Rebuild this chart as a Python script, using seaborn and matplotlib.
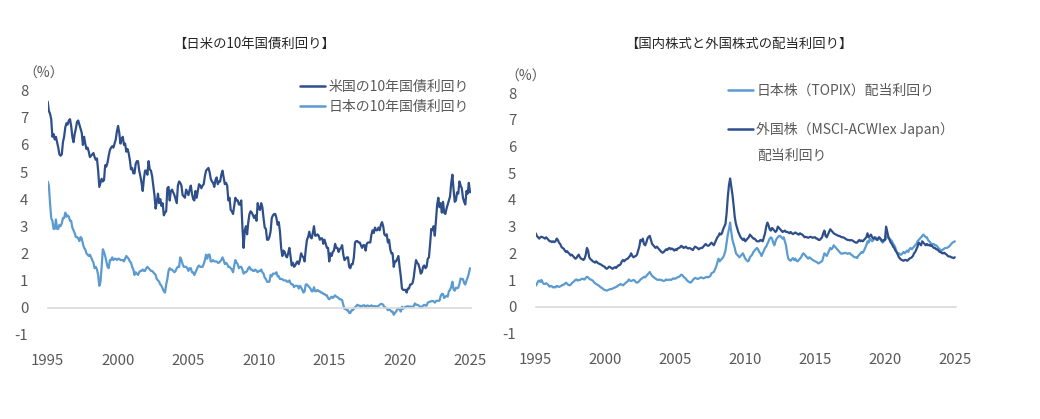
import numpy as np
import pandas as pd
import matplotlib
matplotlib.use("Agg")
import matplotlib.pyplot as plt
import seaborn as sns

sns.set_theme(style="white")
plt.rcParams['font.family'] = ['Noto Sans CJK JP', 'DejaVu Sans']

# ---------------- data (monthly, Jan 1995 - Jan 2025) ----------------
us_10y = [
    7.6, 7.25, 7.15, 6.95, 6.3, 6.4, 6.2, 6.3, 6.1, 5.9, 5.65, 5.6,
    5.65, 6.1, 6.3, 6.65, 6.8, 6.75, 6.9, 6.95, 6.7, 6.3, 6.1, 6.4,
    6.6, 6.85, 6.9, 6.75, 6.6, 6.45, 6.0, 6.3, 6.05, 5.85, 5.9, 5.75,
    5.55, 5.6, 5.65, 5.7, 5.55, 5.45, 5.5, 5.05, 4.45, 4.6, 4.75, 4.65,
    4.7, 5.25, 5.2, 5.35, 5.6, 5.8, 5.9, 5.95, 5.9, 6.05, 6.2, 6.5,
    6.7, 6.45, 6.05, 6.2, 6.3, 6.0, 6.05, 5.75, 5.85, 5.7, 5.45, 5.1,
    5.15, 4.95, 4.95, 5.3, 5.4, 5.4, 5.05, 4.85, 4.6, 4.3, 4.75, 5.05,
    5.05, 4.9, 5.4, 5.1, 5.05, 4.85, 4.5, 4.15, 3.65, 3.9, 4.2, 3.85,
    4.0, 3.75, 3.85, 3.4, 3.5, 3.55, 4.4, 4.45, 3.95, 4.3, 4.35, 4.25,
    4.15, 4.0, 3.85, 4.5, 4.65, 4.6, 4.5, 4.15, 4.1, 4.05, 4.35, 4.25,
    4.15, 4.35, 4.5, 4.2, 4.0, 3.95, 4.3, 4.05, 4.3, 4.55, 4.5, 4.4,
    4.5, 4.55, 4.85, 5.05, 5.1, 5.15, 5.0, 4.75, 4.65, 4.6, 4.45, 4.7,
    4.8, 4.55, 4.65, 4.65, 4.9, 5.05, 4.8, 4.55, 4.6, 4.5, 3.95, 4.05,
    3.6, 3.55, 3.45, 3.75, 4.05, 3.95, 3.95, 3.8, 3.8, 3.95, 2.95, 2.2,
    2.85, 3.0, 2.7, 3.15, 3.45, 3.55, 3.5, 3.4, 3.3, 3.4, 3.2, 3.85,
    3.65, 3.6, 3.85, 3.7, 3.3, 2.95, 2.9, 2.5, 2.5, 2.6, 2.8, 3.3,
    3.4, 3.45, 3.45, 3.3, 3.05, 3.15, 2.8, 2.2, 1.9, 2.1, 2.05, 1.9,
    1.85, 2.0, 2.2, 1.9, 1.55, 1.65, 1.5, 1.55, 1.65, 1.7, 1.6, 1.75,
    2.0, 1.9, 1.85, 1.7, 2.15, 2.5, 2.6, 2.8, 2.6, 2.55, 2.75, 3.0,
    2.65, 2.65, 2.7, 2.65, 2.5, 2.55, 2.55, 2.35, 2.5, 2.35, 2.2, 2.2,
    1.7, 2.0, 1.9, 2.05, 2.1, 2.35, 2.2, 2.2, 2.05, 2.15, 2.2, 2.3,
    1.95, 1.75, 1.8, 1.85, 1.85, 1.5, 1.45, 1.6, 1.6, 1.85, 2.4, 2.45,
    2.45, 2.4, 2.4, 2.3, 2.2, 2.3, 2.3, 2.1, 2.35, 2.4, 2.4, 2.4,
    2.7, 2.85, 2.75, 2.95, 2.85, 2.85, 2.95, 2.85, 3.05, 3.15, 3.0, 2.7,
    2.65, 2.7, 2.4, 2.5, 2.15, 2.0, 2.0, 1.5, 1.7, 1.7, 1.8, 1.9,
    1.5, 1.15, 0.7, 0.65, 0.65, 0.65, 0.55, 0.7, 0.7, 0.85, 0.85, 0.9,
    1.1, 1.45, 1.75, 1.65, 1.6, 1.45, 1.25, 1.3, 1.5, 1.55, 1.45, 1.5,
    1.8, 1.85, 2.35, 2.9, 2.85, 3.0, 2.65, 3.2, 3.8, 4.05, 3.7, 3.85,
    3.5, 3.9, 3.5, 3.45, 3.65, 3.8, 3.95, 4.1, 4.6, 4.9, 4.35, 3.9,
    3.95, 4.25, 4.2, 4.65, 4.5, 4.4, 4.05, 3.9, 3.8, 4.3, 4.2, 4.6,
    4.25,
]

jp_10y = [
    4.65, 4.5, 3.85, 3.3, 3.2, 2.9, 2.9, 3.25, 2.9, 2.9, 3.05, 3.0,
    3.1, 3.3, 3.3, 3.5, 3.35, 3.4, 3.35, 3.2, 3.2, 2.95, 2.85, 2.75,
    2.6, 2.6, 2.55, 2.45, 2.6, 2.55, 2.35, 2.2, 2.15, 2.0, 1.95, 1.9,
    1.95, 1.85, 1.75, 1.65, 1.45, 1.5, 1.4, 1.2, 0.8, 0.95, 1.5, 2.15,
    2.05, 1.9, 1.7, 1.5, 1.45, 1.75, 1.75, 1.85, 1.75, 1.8, 1.8, 1.75,
    1.8, 1.8, 1.75, 1.75, 1.75, 1.7, 1.8, 1.9, 1.85, 1.8, 1.7, 1.65,
    1.5, 1.4, 1.2, 1.3, 1.25, 1.2, 1.3, 1.35, 1.35, 1.4, 1.35, 1.35,
    1.45, 1.5, 1.45, 1.4, 1.35, 1.35, 1.3, 1.25, 1.2, 1.05, 1.0, 0.95,
    0.85, 0.8, 0.7, 0.6, 0.55, 0.85, 1.05, 1.35, 1.45, 1.4, 1.4, 1.35,
    1.3, 1.35, 1.45, 1.5, 1.5, 1.85, 1.75, 1.6, 1.5, 1.5, 1.5, 1.45,
    1.35, 1.45, 1.45, 1.3, 1.3, 1.2, 1.3, 1.4, 1.5, 1.55, 1.5, 1.5,
    1.5, 1.6, 1.75, 1.95, 1.8, 1.95, 1.95, 1.7, 1.7, 1.75, 1.7, 1.7,
    1.7, 1.65, 1.65, 1.7, 1.75, 1.85, 1.75, 1.6, 1.65, 1.6, 1.5, 1.5,
    1.45, 1.4, 1.3, 1.55, 1.75, 1.65, 1.6, 1.45, 1.5, 1.5, 1.4, 1.25,
    1.3, 1.3, 1.35, 1.45, 1.5, 1.4, 1.4, 1.35, 1.35, 1.4, 1.35, 1.3,
    1.35, 1.35, 1.4, 1.3, 1.25, 1.1, 1.05, 0.95, 0.95, 0.95, 1.2, 1.15,
    1.25, 1.25, 1.25, 1.3, 1.15, 1.15, 1.05, 1.05, 1.05, 1.0, 1.0, 1.0,
    0.95, 0.95, 1.0, 0.9, 0.85, 0.85, 0.75, 0.8, 0.8, 0.8, 0.7, 0.8,
    0.75, 0.65, 0.55, 0.6, 0.85, 0.85, 0.8, 0.75, 0.7, 0.6, 0.6, 0.75,
    0.6, 0.6, 0.65, 0.6, 0.6, 0.55, 0.55, 0.5, 0.5, 0.45, 0.45, 0.35,
    0.3, 0.35, 0.4, 0.35, 0.4, 0.45, 0.4, 0.38, 0.35, 0.3, 0.3, 0.27,
    0.1, -0.05, -0.05, -0.1, -0.1, -0.2, -0.2, -0.1, -0.1, -0.05, 0.0, 0.05,
    0.1, 0.07, 0.07, 0.03, 0.05, 0.08, 0.08, 0.02, 0.07, 0.07, 0.05, 0.05,
    0.08, 0.05, 0.05, 0.05, 0.04, 0.04, 0.06, 0.1, 0.13, 0.13, 0.1, 0.0,
    0.0, -0.03, -0.1, -0.05, -0.1, -0.15, -0.15, -0.27, -0.2, -0.15, -0.07, -0.02,
    -0.05, -0.15, 0.03, -0.05, 0.0, 0.03, 0.02, 0.05, 0.02, 0.04, 0.03, 0.02,
    0.05, 0.15, 0.1, 0.1, 0.08, 0.05, 0.02, 0.02, 0.07, 0.1, 0.07, 0.07,
    0.18, 0.2, 0.22, 0.23, 0.24, 0.23, 0.18, 0.23, 0.25, 0.25, 0.25, 0.42,
    0.5, 0.5, 0.35, 0.4, 0.43, 0.4, 0.6, 0.65, 0.77, 0.95, 0.67, 0.62,
    0.73, 0.71, 0.73, 0.87, 1.07, 1.05, 1.05, 0.9, 0.85, 1.0, 1.1, 1.25,
    1.45,
]

topix_div = [
    0.78, 0.85, 0.95, 0.98, 0.93, 1.0, 0.9, 0.85, 0.85, 0.88, 0.85, 0.8,
    0.75, 0.78, 0.76, 0.72, 0.74, 0.72, 0.78, 0.76, 0.74, 0.76, 0.78, 0.82,
    0.82, 0.86, 0.9, 0.86, 0.82, 0.8, 0.82, 0.88, 0.92, 0.95, 1.0, 1.02,
    0.98, 1.0, 1.0, 1.03, 1.05, 1.03, 1.02, 1.08, 1.12, 1.1, 1.05, 1.02,
    1.0, 0.98, 0.92, 0.88, 0.85, 0.82, 0.8, 0.76, 0.72, 0.7, 0.66, 0.63,
    0.62, 0.6, 0.62, 0.64, 0.66, 0.66, 0.68, 0.7, 0.72, 0.74, 0.76, 0.8,
    0.82, 0.85, 0.82, 0.8, 0.84, 0.88, 0.92, 0.95, 1.02, 0.98, 0.96, 0.98,
    1.0, 0.98, 0.92, 0.9, 0.92, 0.96, 1.02, 1.05, 1.08, 1.12, 1.1, 1.15,
    1.2, 1.25, 1.3, 1.22, 1.15, 1.12, 1.08, 1.05, 1.02, 1.0, 1.02, 1.0,
    1.0, 0.98, 0.96, 0.98, 1.02, 1.0, 1.0, 1.02, 1.0, 1.02, 1.06, 1.05,
    1.05, 1.08, 1.1, 1.12, 1.15, 1.2, 1.18, 1.12, 1.08, 1.05, 0.98, 0.95,
    0.92, 0.9, 0.94, 1.0, 1.05, 1.08, 1.06, 1.04, 1.05, 1.08, 1.1, 1.08,
    1.06, 1.08, 1.1, 1.12, 1.1, 1.12, 1.15, 1.25, 1.28, 1.3, 1.4, 1.5,
    1.65, 1.8, 1.7, 1.75, 1.8, 1.85, 1.95, 2.1, 2.4, 2.7, 2.9, 3.15,
    2.8, 2.5, 2.35, 2.2, 2.0, 1.95, 1.9, 1.85, 1.9, 1.95, 2.0, 1.9,
    1.8, 1.75, 1.7, 1.72, 1.85, 1.9, 1.95, 2.05, 2.1, 2.15, 2.2, 2.15,
    2.05, 2.0, 1.9, 2.0, 2.1, 2.2, 2.25, 2.35, 2.45, 2.55, 2.6, 2.55,
    2.4, 2.3, 2.45, 2.55, 2.6, 2.65, 2.65, 2.6, 2.55, 2.6, 2.45, 2.3,
    2.0, 1.8, 1.75, 1.72, 1.78, 1.82, 1.75, 1.8, 1.72, 1.7, 1.75, 1.8,
    1.85, 1.95, 2.0, 1.95, 1.9, 1.85, 1.8, 1.85, 1.82, 1.78, 1.75, 1.72,
    1.7, 1.68, 1.65, 1.62, 1.65, 1.68, 1.7, 1.85, 2.0, 1.95, 1.9, 2.0,
    2.1, 2.2, 2.15, 2.2, 2.3, 2.25, 2.2, 2.15, 2.1, 2.05, 2.0, 1.98,
    2.0, 2.0, 2.02, 2.0, 1.98, 2.0, 2.0, 1.95, 1.92, 1.88, 1.85, 1.85,
    1.82, 1.9, 1.95, 2.0, 2.05, 2.02, 2.1, 2.2, 2.3, 2.45, 2.4, 2.55,
    2.5, 2.45, 2.5, 2.55, 2.6, 2.55, 2.5, 2.6, 2.55, 2.45, 2.4, 2.45,
    2.5, 2.55, 2.65, 2.6, 2.55, 2.5, 2.45, 2.35, 2.3, 2.2, 2.05, 2.0,
    2.0, 1.95, 1.95, 2.0, 2.05, 2.0, 2.05, 2.1, 2.05, 2.15, 2.2, 2.15,
    2.2, 2.25, 2.3, 2.35, 2.45, 2.5, 2.55, 2.6, 2.65, 2.7, 2.65, 2.6,
    2.6, 2.5, 2.45, 2.4, 2.35, 2.35, 2.35, 2.3, 2.3, 2.25, 2.2, 2.15,
    2.12, 2.1, 2.15, 2.18, 2.2, 2.2, 2.22, 2.25, 2.3, 2.35, 2.4, 2.42,
    2.45,
]

acwi_div = [
    2.75, 2.65, 2.6, 2.55, 2.6, 2.62, 2.6, 2.58, 2.55, 2.6, 2.55, 2.5,
    2.45, 2.45, 2.42, 2.45, 2.42, 2.45, 2.55, 2.5, 2.4, 2.35, 2.25, 2.2,
    2.18, 2.1, 2.05, 2.08, 2.02, 1.98, 1.92, 1.95, 1.9, 1.85, 1.8, 1.82,
    1.9, 1.95, 1.85, 1.8, 1.78, 1.75, 1.8, 1.95, 2.2, 2.1, 1.85, 1.78,
    1.75, 1.7, 1.68, 1.65, 1.7, 1.65, 1.62, 1.6, 1.58, 1.55, 1.52, 1.5,
    1.45, 1.42, 1.45, 1.5, 1.48, 1.45, 1.42, 1.45, 1.48, 1.45, 1.5, 1.55,
    1.55, 1.6, 1.7, 1.75, 1.7, 1.75, 1.78, 1.8, 1.85, 1.9, 2.0, 1.9,
    1.85, 1.88, 1.9, 1.95, 2.1, 2.25, 2.5, 2.45, 2.55, 2.35, 2.3, 2.4,
    2.55, 2.62, 2.65, 2.5, 2.35, 2.3, 2.25, 2.2, 2.25, 2.2, 2.15, 2.1,
    2.05, 2.02, 2.05, 2.1, 2.15, 2.12, 2.18, 2.2, 2.15, 2.18, 2.15, 2.1,
    2.15, 2.12, 2.18, 2.2, 2.22, 2.28, 2.25, 2.2, 2.22, 2.25, 2.2, 2.18,
    2.2, 2.18, 2.15, 2.12, 2.2, 2.25, 2.22, 2.2, 2.15, 2.18, 2.2, 2.2,
    2.25, 2.3, 2.35, 2.3, 2.28, 2.3, 2.35, 2.4, 2.35, 2.3, 2.4, 2.5,
    2.6, 2.65, 2.75, 2.7, 2.75, 2.9, 3.0, 3.1, 3.5, 4.1, 4.55, 4.8,
    4.5, 4.2, 3.8, 3.35, 3.1, 2.95, 2.8, 2.7, 2.6, 2.55, 2.5, 2.55,
    2.45, 2.5, 2.55, 2.6, 2.7, 2.65, 2.6, 2.55, 2.55, 2.5, 2.45, 2.45,
    2.45, 2.5, 2.48, 2.45, 2.6, 2.75, 3.0, 3.15, 3.05, 2.9, 2.85, 2.95,
    2.9, 2.85, 2.8, 2.85, 3.0, 2.95, 2.9, 2.85, 2.8, 2.82, 2.85, 2.8,
    2.8, 2.78, 2.75, 2.8, 2.75, 2.72, 2.75, 2.78, 2.75, 2.72, 2.7, 2.75,
    2.72, 2.7, 2.65, 2.6, 2.62, 2.6, 2.58, 2.6, 2.62, 2.6, 2.58, 2.6,
    2.6, 2.55, 2.55, 2.5, 2.5, 2.55, 2.6, 2.75, 2.85, 2.65, 2.6, 2.7,
    2.8, 2.9, 2.85, 2.8, 2.75, 2.72, 2.7, 2.68, 2.65, 2.65, 2.62, 2.6,
    2.6, 2.58, 2.55, 2.52, 2.5, 2.5, 2.48, 2.5, 2.48, 2.45, 2.42, 2.4,
    2.4, 2.45, 2.5, 2.45, 2.48, 2.45, 2.5, 2.55, 2.6, 2.75, 2.6, 2.65,
    2.7, 2.6, 2.55, 2.6, 2.55, 2.5, 2.55, 2.6, 2.55, 2.5, 2.45, 2.5,
    2.5, 3.0, 2.8, 2.6, 2.5, 2.4, 2.35, 2.25, 2.2, 2.1, 2.05, 1.95,
    1.85, 1.8, 1.76, 1.74, 1.72, 1.75, 1.75, 1.72, 1.75, 1.8, 1.82, 1.85,
    1.9, 2.0, 2.05, 2.15, 2.25, 2.4, 2.35, 2.3, 2.45, 2.4, 2.35, 2.3,
    2.35, 2.3, 2.32, 2.28, 2.3, 2.25, 2.2, 2.2, 2.15, 2.15, 2.1, 2.05,
    2.05, 2.0, 2.0, 2.02, 1.98, 1.95, 1.9, 1.88, 1.88, 1.85, 1.84, 1.82,
    1.85,
]

x_ticks = [1995, 2000, 2005, 2010, 2015, 2020, 2025]
y_ticks = [-1, 0, 1, 2, 3, 4, 5, 6, 7, 8]

title_left = "【日米の10年国債利回り】"
title_right = "【国内株式と外国株式の配当利回り】"
lbl_us = "米国の10年国債利回り"
lbl_jp = "日本の10年国債利回り"
lbl_topix = "日本株（TOPIX）配当利回り"
lbl_acwi = "外国株（MSCI-ACWIex Japan）"
lbl_acwi2 = "配当利回り"

DARK = "#2F4F8A"
LIGHT = "#5B9BD0"
GRAY = "#595959"
AXIS = "#D9D9D9"

dates = pd.date_range("1995-01-01", periods=len(us_10y), freq="MS")
t = dates.year + (dates.month - 1) / 12.0

df_left = pd.DataFrame({"t": np.concatenate([t, t]),
                        "v": us_10y + jp_10y,
                        "s": [lbl_us] * len(us_10y) + [lbl_jp] * len(jp_10y)})
df_right = pd.DataFrame({"t": np.concatenate([t, t]),
                         "v": topix_div + acwi_div,
                         "s": [lbl_topix] * len(topix_div) + [lbl_acwi] * len(acwi_div)})

W, H = 1040, 419
fig = plt.figure(figsize=(W / 100, H / 100), dpi=100)

def px_axes(x0, x1, ytop, ybot):
    return fig.add_axes([x0 / W, 1 - ybot / H, (x1 - x0) / W, (ybot - ytop) / H])

ax1 = px_axes(47.7, 470.7, 90.7, 334.6)
ax2 = px_axes(535.7, 955.5, 93.1, 333.4)

for ax, df, order, pal in [
        (ax1, df_left, [lbl_us, lbl_jp], [DARK, LIGHT]),
        (ax2, df_right, [lbl_topix, lbl_acwi], [LIGHT, DARK])]:
    sns.lineplot(data=df, x="t", y="v", hue="s", hue_order=order,
                 palette=pal, linewidth=1.6, ax=ax, legend=False)
    ax.set_xlim(1995, 2025.05)
    ax.set_ylim(-1, 8)
    ax.set_xticks(x_ticks)
    ax.set_xticklabels([str(v) for v in x_ticks])
    ax.set_yticks(y_ticks)
    ax.set_yticklabels([str(v) for v in y_ticks])
    ax.set_xlabel("")
    ax.set_ylabel("")
    for s in ["top", "right", "left"]:
        ax.spines[s].set_visible(False)
    ax.spines["bottom"].set_position(("data", 0))
    ax.spines["bottom"].set_color(AXIS)
    ax.spines["bottom"].set_linewidth(1.2)
    ax.tick_params(axis="x", direction="inout", length=7, width=1.2,
                   color=AXIS, labelcolor=GRAY, labelsize=10.8, pad=30)
    ax.tick_params(axis="y", length=0, labelcolor=GRAY, labelsize=10.8, pad=14)
    ax.set_facecolor("white")
    ax.patch.set_alpha(0)

from matplotlib.lines import Line2D

h_us = Line2D([], [], color=DARK, lw=1.8)
h_jp = Line2D([], [], color=LIGHT, lw=1.8)
leg1 = fig.legend([h_us, h_jp], [lbl_us, lbl_jp], loc="upper left",
                  bbox_to_anchor=(300 / W, 1 - 80 / H), frameon=False,
                  fontsize=10, handlelength=1.8, handletextpad=0.25,
                  labelspacing=0.45, borderpad=0, borderaxespad=0,
                  labelcolor=GRAY)
leg2 = fig.legend([h_jp, h_us], [lbl_topix, lbl_acwi], loc="upper left",
                  bbox_to_anchor=(728 / W, 1 - 84 / H), frameon=False,
                  fontsize=10, handlelength=1.8, handletextpad=0.25,
                  labelspacing=1.7, borderpad=0, borderaxespad=0,
                  labelcolor=GRAY)
fig.text(757 / W, 1 - 156 / H, lbl_acwi2, fontsize=10, color=GRAY,
         ha="left", va="center")

fig.text(254 / W, 1 - 44 / H, title_left, fontsize=9.6, color="#262626",
         ha="center", va="center")
fig.text(739 / W, 1 - 44 / H, title_right, fontsize=9.6, color="#262626",
         ha="center", va="center")
fig.text(44 / W, 1 - 74 / H, "（%）", fontsize=10, color=GRAY,
         ha="center", va="center")
fig.text(526 / W, 1 - 77 / H, "（%）", fontsize=10, color=GRAY,
         ha="center", va="center")

fig.savefig("out.png", dpi=100, facecolor="white")
